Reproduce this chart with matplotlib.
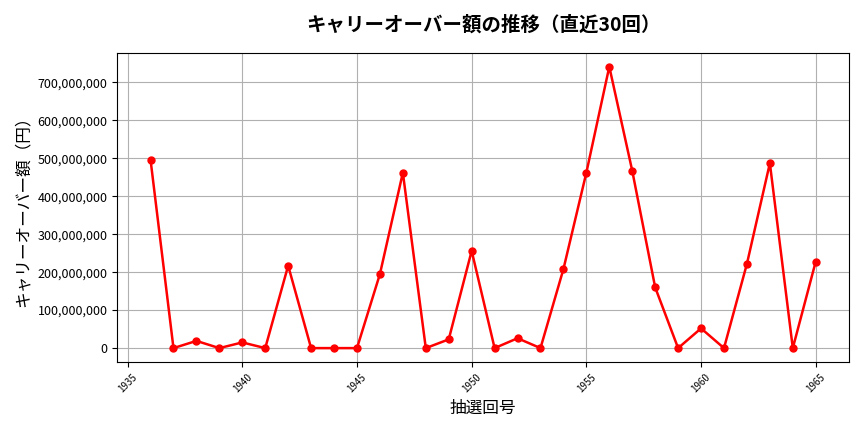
import matplotlib
matplotlib.use("Agg")
import matplotlib.pyplot as plt
from matplotlib.ticker import FuncFormatter

plt.rcParams['font.family'] = ['Noto Sans CJK JP', 'DejaVu Sans']

draws = list(range(1936, 1966))
carryover = [496e6, 0, 19e6, 0, 15e6, 0, 217e6, 0, 0, 0,
             195e6, 462e6, 0, 23e6, 256e6, 0, 26e6, 0, 208e6, 462e6,
             741e6, 467e6, 160e6, 0, 52e6, 0, 222e6, 487e6, 0, 228e6]

fig, ax = plt.subplots(figsize=(8.64, 4.32), dpi=100)
ax.plot(draws, carryover, color='red', marker='o', markersize=5, linewidth=1.8)
ax.set_title('キャリーオーバー額の推移（直近30回）', fontsize=14, fontweight='bold', pad=16)
ax.set_xlabel('抽選回号', fontsize=12)
ax.set_ylabel('キャリーオーバー額（円）', fontsize=12)
ax.yaxis.set_major_formatter(FuncFormatter(lambda v, p: f'{int(v):,}'))
ax.tick_params(axis='x', labelrotation=45, labelsize=7)
ax.tick_params(axis='y', labelsize=9)
ax.grid(True, color='#b0b0b0', linewidth=0.8)
fig.tight_layout()
fig.savefig('out.png', dpi=100)
